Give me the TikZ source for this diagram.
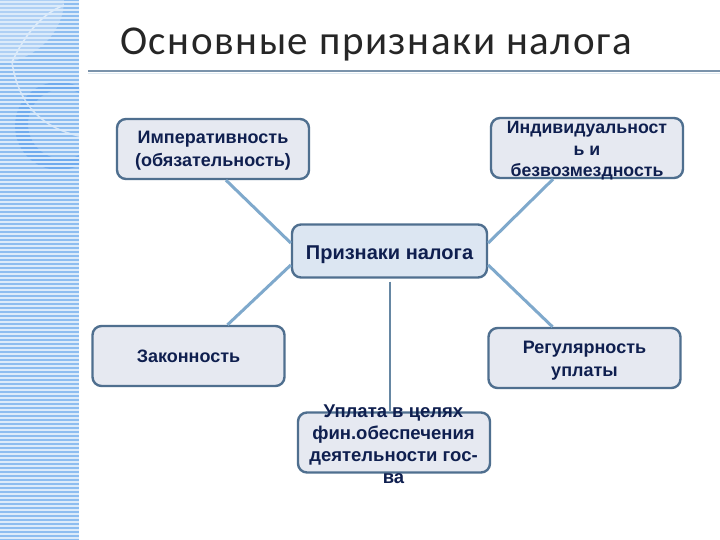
\documentclass[tikz,border=0pt]{standalone}
\usepackage{fontspec}
\setmainfont{Liberation Sans}
\newfontfamily\titlefont[LetterSpace=3.8]{Carlito}
\definecolor{band}{HTML}{8DBDF0}
\definecolor{bandline}{HTML}{DCEBFA}
\definecolor{ringblue}{HTML}{66A6EE}
\definecolor{edgeline}{HTML}{4F6F8F}
\definecolor{boxgrey}{HTML}{E6E9F1}
\definecolor{boxblue}{HTML}{DCE6F2}
\definecolor{linkblue}{HTML}{7FA9CC}
\definecolor{inkblue}{HTML}{0F1F4F}
\tikzset{
  box/.style={draw=edgeline,line width=2.4pt,rounded corners=9pt,fill=boxgrey,minimum width=192pt,minimum height=60pt,inner sep=0pt},
  boxtext/.style={text=inkblue,font=\fontsize{18}{23}\selectfont\bfseries,align=center,inner sep=0pt},
  link/.style={draw=linkblue,line width=3pt}
}
\begin{document}
\begin{tikzpicture}[x=1pt,y=-1pt]
\useasboundingbox (0,0) rectangle (720,540);
\fill[white] (0,0) rectangle (720,540);
% side band
\fill[band] (0,0) rectangle (79,540);
\begin{scope}
\clip (0,0) rectangle (79,540);
\fill[white,opacity=.3] (0,0) -- (64,0) .. controls (64,30) and (40,55) .. (10,62) -- (0,62) -- cycle;
\fill[ringblue,opacity=.75,even odd rule] (59,126) circle[radius=44] (63,124) circle[radius=35];
\draw[white,opacity=.6,line width=1.5pt] (12,62) .. controls (16,90) and (30,125) .. (79,136);
\draw[white,opacity=.6,line width=1.5pt] (64,5) .. controls (40,15) and (25,35) .. (12,62);
\foreach \i in {2,6,...,538}{
  \draw[bandline,line width=1.2pt] (0,\i) -- (79,\i);
}
\end{scope}
% title
\node[anchor=west,inner sep=0pt,text=black!85,font=\titlefont\fontsize{41}{43}\selectfont] (title) at (120,45) {Основные признаки налога};
\draw[draw=edgeline!75,line width=2pt] (88,71) -- (720,71);
\draw[draw=linkblue!25,line width=1.5pt] (88,73.5) -- (720,73.5);
% boxes
\node[box] (a) at (213,149) {};
\node[box] (b) at (587,148) {};
\node[box,fill=boxblue,minimum width=195pt,minimum height=53pt] (c) at (389.5,251) {};
\node[box] (d) at (188.5,356) {};
\node[box] (e) at (584.5,358) {};
\node[box] (f) at (394,442.5) {};
% connectors
\draw[link] ([xshift=13pt]a.south) -- ([yshift=8pt]c.west);
\draw[link] ([xshift=-34pt]b.south) -- ([yshift=8pt]c.east);
\draw[link] ([xshift=39pt]d.north) -- ([yshift=-14pt]c.west);
\draw[link] ([xshift=-32pt]e.north) -- ([yshift=-14pt]c.east);
\draw[link,line width=2pt,draw=linkblue!80!black] ([yshift=-3pt]c.south) -- (c.south |- f.north);
% texts
\node[boxtext] (ta) at (213,151) {Императивность\\(обязательность)};
\node[boxtext,font=\fontsize{17.7}{21.5}\selectfont\bfseries] (tb) at (587,151) {Индивидуальност\\ь и\\безвозмездность};
\node[boxtext,font=\fontsize{20}{23}\selectfont\bfseries] (tc) at (389.5,255) {Признаки налога};
\node[boxtext] (td) at (d) {Законность};
\node[boxtext] (te) at (584.5,361) {Регулярность\\уплаты};
\node[boxtext,font=\fontsize{18.5}{22}\selectfont\bfseries] (tf) at (393.5,444) {Уплата в целях\\фин.обеспечения\\деятельности гос-\\ва};
\end{tikzpicture}
\end{document}
